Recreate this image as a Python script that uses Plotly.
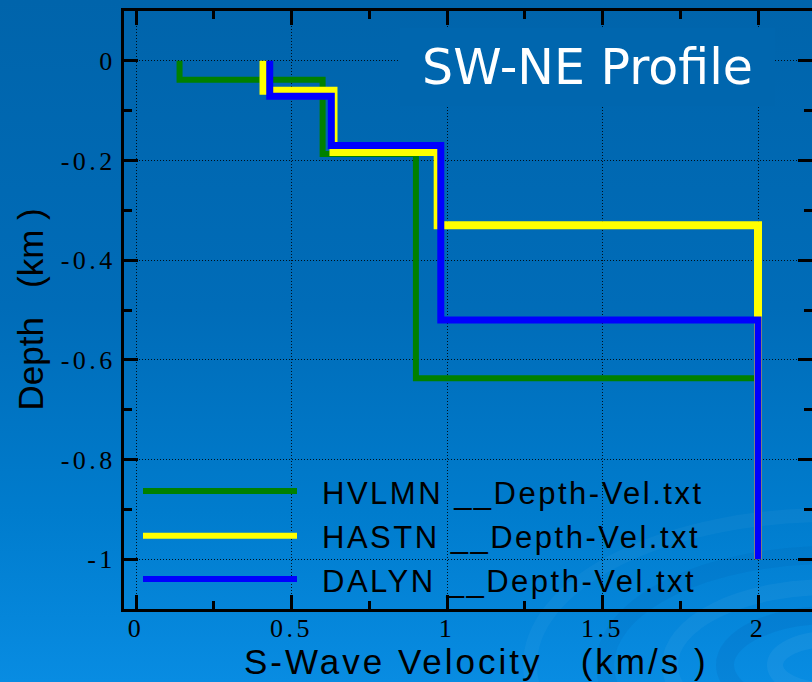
import base64
import plotly.graph_objects as go

# Shear-wave velocity (km/s) of each layer and the depth (km) of each layer's base
station_names = ["HVLMN __Depth-Vel.txt", "HASTN __Depth-Vel.txt", "DALYN __Depth-Vel.txt"]
hvlmn_vs = [0.14, 0.60, 0.90, 2.00]
hvlmn_bottom = [0.038, 0.187, 0.637, 1.00]
hastn_vs = [0.41, 0.635, 0.97, 2.00]
hastn_bottom = [0.060, 0.183, 0.330, 1.00]
dalyn_vs = [0.43, 0.628, 0.98, 2.00]
dalyn_bottom = [0.071, 0.170, 0.520, 1.00]
line_colors = ["#008000", "#FFFF00", "#0000FF"]
line_widths = [6, 8, 7]

x_tick_vals = [0, 0.5, 1, 1.5, 2]
x_tick_text = ["0", "0.5", "1", "1.5", "2"]
x_minor_vals = [0.25, 0.75, 1.25, 1.75]
y_tick_vals = [0, -0.2, -0.4, -0.6, -0.8, -1.0]
y_tick_text = ["0", "-0.2", "-0.4", "-0.6", "-0.8", "-1"]
y_minor_vals = [-0.1, -0.3, -0.5, -0.7, -0.9]

W, H = 812, 682
ML, MR, MT, MB = 124, 0, 11, 73
PW, PH = W - ML - MR, H - MT - MB


def step_profile(vs, bottoms):
    """Turn layer velocities/base depths into a staircase polyline."""
    xs, ys = [], []
    top = 0.0
    for v, b in zip(vs, bottoms):
        xs += [v, v]
        ys += [-top, -b]
        top = b
    return xs, ys


def spaced(text, px):
    return f"<span style='letter-spacing:{px}px'>{text}</span>"


def px_to_paper(px, py):
    return (px - ML) / PW, (H - MB - py) / PH


profiles = [(hvlmn_vs, hvlmn_bottom), (hastn_vs, hastn_bottom), (dalyn_vs, dalyn_bottom)]

fig = go.Figure()
for name, (vs, bot), col, lw in zip(station_names, profiles, line_colors, line_widths):
    xs, ys = step_profile(vs, bot)
    fig.add_trace(go.Scatter(x=xs, y=ys, mode="lines", name=name,
                             line=dict(color=col, width=lw), showlegend=False))
# empty trace so the right-hand tick axis gets drawn
fig.add_trace(go.Scatter(x=[], y=[], yaxis="y2", showlegend=False))

# gradient backdrop with faint ripples in the lower right
bg_svg = f"""<svg xmlns="http://www.w3.org/2000/svg" width="{W}" height="{H}" viewBox="0 0 {W} {H}">
<defs><linearGradient id="g" x1="0" y1="0" x2="0" y2="1">
<stop offset="0" stop-color="#0064AB"/><stop offset="0.45" stop-color="#006CB8"/>
<stop offset="0.75" stop-color="#007CCD"/><stop offset="1" stop-color="#088CE2"/>
</linearGradient></defs>
<rect width="{W}" height="{H}" fill="url(#g)"/>
<g fill="none">
<ellipse cx="830" cy="665" rx="55" ry="26" stroke="rgba(255,255,255,0.05)" stroke-width="16"/>
<ellipse cx="830" cy="665" rx="105" ry="50" stroke="rgba(0,50,130,0.09)" stroke-width="18"/>
<ellipse cx="830" cy="665" rx="160" ry="78" stroke="rgba(255,255,255,0.045)" stroke-width="16"/>
<ellipse cx="830" cy="665" rx="225" ry="110" stroke="rgba(0,50,130,0.07)" stroke-width="18"/>
<ellipse cx="830" cy="665" rx="300" ry="150" stroke="rgba(255,255,255,0.035)" stroke-width="14"/>
</g></svg>"""
bg_uri = "data:image/svg+xml;base64," + base64.b64encode(bg_svg.encode()).decode()

fig.add_layout_image(dict(source=bg_uri, xref="paper", yref="paper",
                          x=-ML / PW, y=1 + MT / PH, sizex=W / PW, sizey=H / PH,
                          xanchor="left", yanchor="top", sizing="stretch", layer="below"))

tick_font = dict(family="Liberation Serif, Times New Roman, serif", size=26, color="black")
grid = dict(showgrid=True, gridcolor="rgba(0,0,0,0.85)", gridwidth=1, griddash="1px,2px")

fig.update_layout(
    width=W, height=H,
    margin=dict(l=ML, r=MR, t=MT, b=MB, pad=0),
    paper_bgcolor="rgba(0,0,0,0)", plot_bgcolor="rgba(0,0,0,0)",
    xaxis=dict(range=[-0.0386, 2.1736], tickmode="array", tickvals=x_tick_vals,
               ticktext=[spaced(t, 3.5) for t in x_tick_text],
               ticks="inside", ticklen=14, tickwidth=3, tickcolor="black",
               minor=dict(tickmode="array", tickvals=x_minor_vals, ticks="inside",
                          ticklen=8, tickwidth=3, tickcolor="black", showgrid=False),
               showline=True, linecolor="black", linewidth=3, mirror="ticks",
               zeroline=False, tickfont=tick_font, ticklabelstandoff=-6, **grid),
    yaxis=dict(range=[-1.1, 0.1], tickmode="array", tickvals=y_tick_vals,
               ticktext=[spaced(t, 3.5) for t in y_tick_text],
               ticks="inside", ticklen=14, tickwidth=3, tickcolor="black",
               minor=dict(tickmode="array", tickvals=y_minor_vals, ticks="inside",
                          ticklen=8, tickwidth=3, tickcolor="black", showgrid=False),
               showline=True, linecolor="black", linewidth=3, mirror=False,
               zeroline=False, tickfont=tick_font, **grid),
    yaxis2=dict(range=[-1.1, 0.1], overlaying="y", side="right", anchor="x",
                tickmode="array", tickvals=y_tick_vals, showticklabels=False,
                ticks="inside", ticklen=14, tickwidth=3, tickcolor="black",
                minor=dict(tickmode="array", tickvals=y_minor_vals, ticks="inside",
                           ticklen=8, tickwidth=3, tickcolor="black", showgrid=False),
                showline=False, showgrid=False, zeroline=False),
)

label_font = dict(family="Liberation Sans, Arial, sans-serif", size=35, color="black")

# axis titles
ax_x, ax_y = px_to_paper(476, 661)
fig.add_annotation(text=spaced("S-Wave Velocity   (km/s )", 3.0), xref="paper", yref="paper",
                   x=ax_x, y=ax_y, xanchor="center", yanchor="middle", showarrow=False,
                   font=label_font)
ay_x, ay_y = px_to_paper(29.5, 310)
fig.add_annotation(text="Depth   (km )", xref="paper", yref="paper", x=ay_x, y=ay_y,
                   xanchor="center", yanchor="middle", textangle=-90, showarrow=False,
                   font=label_font)

# boxed title
tx, ty = px_to_paper(587.5, 66.5)
fig.add_annotation(text="SW-NE Profile", xref="paper", yref="paper", x=tx, y=ty,
                   xanchor="center", yanchor="middle", showarrow=False,
                   width=375, height=78, borderpad=0, borderwidth=0, bgcolor="#0066AE",
                   font=dict(family="DejaVu Sans, Verdana, sans-serif", size=49, color="white"))

# legend: long line swatches with spaced labels
legend_rows = [491, 535.7, 579]
for name, col, lw, row in zip(station_names, line_colors, line_widths, legend_rows):
    x0, y0 = px_to_paper(143, row)
    x1, _ = px_to_paper(297, row)
    fig.add_shape(type="line", xref="paper", yref="paper", x0=x0, x1=x1, y0=y0, y1=y0,
                  line=dict(color=col, width=6))
    lx, ly = px_to_paper(320, row + 2)
    fig.add_annotation(text=spaced(name, 2.5), xref="paper", yref="paper", x=lx, y=ly,
                       xanchor="left", yanchor="middle", showarrow=False,
                       font=dict(family="Liberation Sans, Arial, sans-serif", size=31,
                                 color="black"))

fig.write_html("out.html")
